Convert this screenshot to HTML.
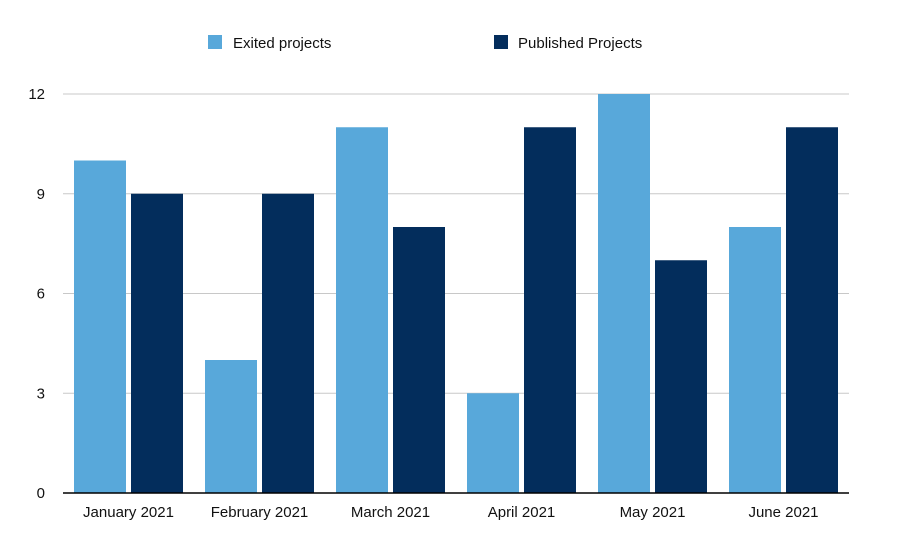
<!DOCTYPE html>
<html><head><meta charset="utf-8"><style>
body{margin:0;background:#fff;font-family:"Liberation Sans",Helvetica,Arial,sans-serif}
svg text{font-family:"Liberation Sans",Helvetica,Arial,sans-serif;font-size:15px;fill:#111}
</style></head><body>
<svg id="chart" width="904" height="550" xmlns="http://www.w3.org/2000/svg">
<g>
<rect x="208" y="35" width="14" height="14" fill="#58a8da"/>
<text x="233" y="48">Exited projects</text>
<rect x="494" y="35" width="14" height="14" fill="#032d5c"/>
<text x="518" y="48">Published Projects</text>
</g>
<g id="grid"></g><g id="bars"></g><g id="axes"></g>
</svg>
<script>
const categories=["January 2021","February 2021","March 2021","April 2021","May 2021","June 2021"];
const exited=[10,4,11,3,12,8];
const published=[9,9,8,11,7,11];
const yTicks=[0,3,6,9,12];
const NS="http://www.w3.org/2000/svg";
const x0=63,x1=849,y0=493,yTop=94,yMax=12;
const y=v=>y0-(v/yMax)*(y0-yTop);
const gw=(x1-x0)/categories.length;
const bw=52,gap=5;
function mk(t,a,p){const e=document.createElementNS(NS,t);for(const k in a)e.setAttribute(k,a[k]);p.appendChild(e);return e;}
const grid=document.getElementById('grid'),bars=document.getElementById('bars'),axes=document.getElementById('axes');
yTicks.forEach(v=>{
 if(v>0){const l=mk('line',{x1:x0,x2:x1,y1:y(v),y2:y(v),stroke:'#c8c8c8','stroke-width':1},grid);
 
 }
 const t=mk('text',{x:45,y:y(v)+5,'text-anchor':'end'},axes);t.textContent=v;
 
 
});
categories.forEach((c,i)=>{
 const cx=x0+gw*(i+0.5);
 const a=mk('rect',{x:cx-gap/2-bw,y:y(exited[i]),width:bw,height:y0-y(exited[i]),fill:'#58a8da'},bars);
 
 
 const b=mk('rect',{x:cx+gap/2,y:y(published[i]),width:bw,height:y0-y(published[i]),fill:'#032d5c'},bars);
 
 
 const t=mk('text',{x:cx,y:517,'text-anchor':'middle'},axes);t.textContent=c;
 
 
});
const ax=mk('line',{x1:x0,x2:x1,y1:y0,y2:y0,stroke:'#000','stroke-width':1.5},axes);


</script>
</body></html>
